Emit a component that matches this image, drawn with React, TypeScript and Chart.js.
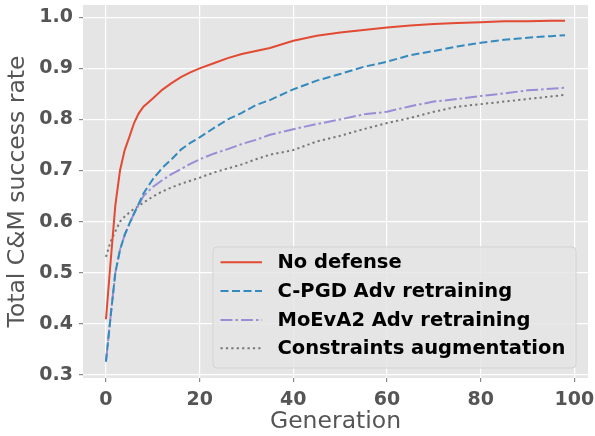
import React, { useEffect, useRef } from "react";
import { Chart, registerables } from "chart.js";

Chart.register(...registerables);

const generations = [0, 1, 2, 3, 4, 5, 6, 7, 8, 10, 12, 14, 16, 18, 20, 23, 26, 29, 32, 35, 40, 45, 50, 55, 60, 65, 70, 75, 80, 85, 90, 95, 98];

const noDefense = [0.409, 0.522, 0.632, 0.700, 0.740, 0.766, 0.793, 0.812, 0.825, 0.841, 0.858, 0.871, 0.883, 0.892, 0.900, 0.910, 0.920, 0.928, 0.934, 0.940, 0.954, 0.964, 0.970, 0.975, 0.980, 0.984, 0.987, 0.989, 0.990, 0.992, 0.992, 0.993, 0.993];
const cpgdAdv = [0.326, 0.415, 0.500, 0.545, 0.574, 0.596, 0.616, 0.635, 0.655, 0.683, 0.705, 0.722, 0.741, 0.754, 0.765, 0.783, 0.800, 0.813, 0.828, 0.838, 0.859, 0.876, 0.889, 0.903, 0.913, 0.926, 0.934, 0.943, 0.950, 0.956, 0.960, 0.963, 0.965];
const moevaAdv = [0.326, 0.415, 0.500, 0.545, 0.574, 0.596, 0.616, 0.633, 0.650, 0.668, 0.681, 0.693, 0.703, 0.713, 0.722, 0.733, 0.742, 0.752, 0.760, 0.770, 0.781, 0.791, 0.800, 0.810, 0.815, 0.826, 0.835, 0.840, 0.846, 0.851, 0.857, 0.860, 0.862];
const constraintsAug = [0.531, 0.561, 0.581, 0.600, 0.610, 0.618, 0.625, 0.631, 0.637, 0.649, 0.659, 0.667, 0.674, 0.680, 0.686, 0.696, 0.704, 0.712, 0.722, 0.731, 0.740, 0.757, 0.768, 0.781, 0.793, 0.803, 0.815, 0.825, 0.830, 0.835, 0.840, 0.845, 0.848];

const seriesLabels = ["No defense", "C-PGD Adv retraining", "MoEvA2 Adv retraining", "Constraints augmentation"];
const xTicks = [0, 20, 40, 60, 80, 100];
const yTicks = [0.3, 0.4, 0.5, 0.6, 0.7, 0.8, 0.9, 1.0];

const COLORS = ["#E24A33", "#348ABD", "#988ED5", "#777777"];
const DASHES = [[], [8, 3.5], [12, 3, 2.5, 3], [2.2, 3.2]];
const FONT = "'DejaVu Sans', sans-serif";

const bgPlugin = {
  id: "plotBg",
  beforeDraw(chart: any) {
    const { ctx, chartArea } = chart;
    ctx.save();
    ctx.fillStyle = "#E5E5E5";
    ctx.fillRect(chartArea.left, chartArea.top, chartArea.right - chartArea.left, chartArea.bottom - chartArea.top);
    ctx.restore();
  },
};

const legendPlugin = {
  id: "boxLegend",
  afterDraw(chart: any) {
    const ctx = chart.ctx;
    const x = 213, y = 247, w = 363, h = 121, r = 4;
    ctx.save();
    ctx.beginPath();
    ctx.moveTo(x + r, y);
    ctx.arcTo(x + w, y, x + w, y + h, r);
    ctx.arcTo(x + w, y + h, x, y + h, r);
    ctx.arcTo(x, y + h, x, y, r);
    ctx.arcTo(x, y, x + w, y, r);
    ctx.closePath();
    ctx.fillStyle = "rgba(229,229,229,0.85)";
    ctx.fill();
    ctx.strokeStyle = "#D3D3D3";
    ctx.lineWidth = 1;
    ctx.stroke();
    const rows = [262.3, 291, 320, 348.3];
    ctx.font = `bold 19.5px ${FONT}`;
    ctx.textBaseline = "middle";
    ctx.textAlign = "left";
    seriesLabels.forEach((lab, i) => {
      ctx.beginPath();
      ctx.setLineDash(DASHES[i]);
      ctx.strokeStyle = COLORS[i];
      ctx.lineWidth = 2;
      ctx.moveTo(220.5, rows[i]);
      ctx.lineTo(262, rows[i]);
      ctx.stroke();
      ctx.setLineDash([]);
      ctx.fillStyle = "#000";
      ctx.fillText(lab, 277.5, rows[i] + 1);
    });
    ctx.restore();
  },
};

export default function App() {
  const ref = useRef<HTMLCanvasElement | null>(null);

  useEffect(() => {
    if (!ref.current) return;
    const allSeries = [noDefense, cpgdAdv, moevaAdv, constraintsAug];
    const chart = new Chart(ref.current, {
      type: "line",
      data: {
        datasets: allSeries.map((vals, i) => ({
          label: seriesLabels[i],
          data: generations.map((g, j) => ({ x: g, y: vals[j] })),
          borderColor: COLORS[i],
          backgroundColor: COLORS[i],
          borderWidth: 2,
          borderDash: DASHES[i],
          pointRadius: 0,
          tension: 0,
          fill: false,
        })),
      },
      options: {
        animation: false,
        responsive: false,
        layout: { padding: { top: 5, right: 7, left: 0, bottom: 0 } },
        plugins: { legend: { display: false }, tooltip: { enabled: false } },
        scales: {
          x: {
            type: "linear",
            min: -4.9,
            max: 102.9,
            afterBuildTicks: (s: any) => {
              s.ticks = xTicks.map((v) => ({ value: v }));
            },
            afterFit: (s: any) => {
              s.height = 58;
              s.paddingLeft = 0;
              s.paddingRight = 0;
              s.paddingTop = 0;
              s.paddingBottom = 0;
            },
            ticks: {
              autoSkip: false,
              maxRotation: 0,
              padding: 7,
              color: "#555555",
              font: { family: FONT, size: 19, weight: "bold" },
              callback: (v: any) => String(v),
            },
            grid: { color: "#FFFFFF", lineWidth: 1.2, tickColor: "#888888", tickLength: 4 },
            border: { display: false },
            title: {
              display: true,
              text: "Generation",
              color: "#555555",
              font: { family: FONT, size: 23.5 },
              padding: { top: 0, bottom: 0 },
            },
          },
          y: {
            type: "linear",
            min: 0.294,
            max: 1.024,
            afterBuildTicks: (s: any) => {
              s.ticks = yTicks.map((v) => ({ value: v }));
            },
            afterFit: (s: any) => {
              s.width = 83;
              s.paddingLeft = 0;
              s.paddingRight = 0;
              s.paddingTop = 0;
              s.paddingBottom = 0;
            },
            ticks: {
              autoSkip: false,
              padding: 6,
              color: "#555555",
              font: { family: FONT, size: 19, weight: "bold" },
              callback: (v: any) => Number(v).toFixed(1),
            },
            grid: { color: "#FFFFFF", lineWidth: 1.2, tickColor: "#888888", tickLength: 4 },
            border: { display: false },
            title: {
              display: true,
              text: "Total C&M success rate",
              color: "#555555",
              font: { family: FONT, size: 23.5 },
              padding: { top: 4, bottom: 0 },
            },
          },
        },
      },
      plugins: [bgPlugin, legendPlugin],
    } as any);
    return () => chart.destroy();
  }, []);

  return (
    <div style={{ position: "fixed", left: 0, top: 0, width: 595, height: 436, background: "#fff" }}>
      <canvas ref={ref} width={595} height={436} style={{ display: "block", width: 595, height: 436 }} />
    </div>
  );
}
